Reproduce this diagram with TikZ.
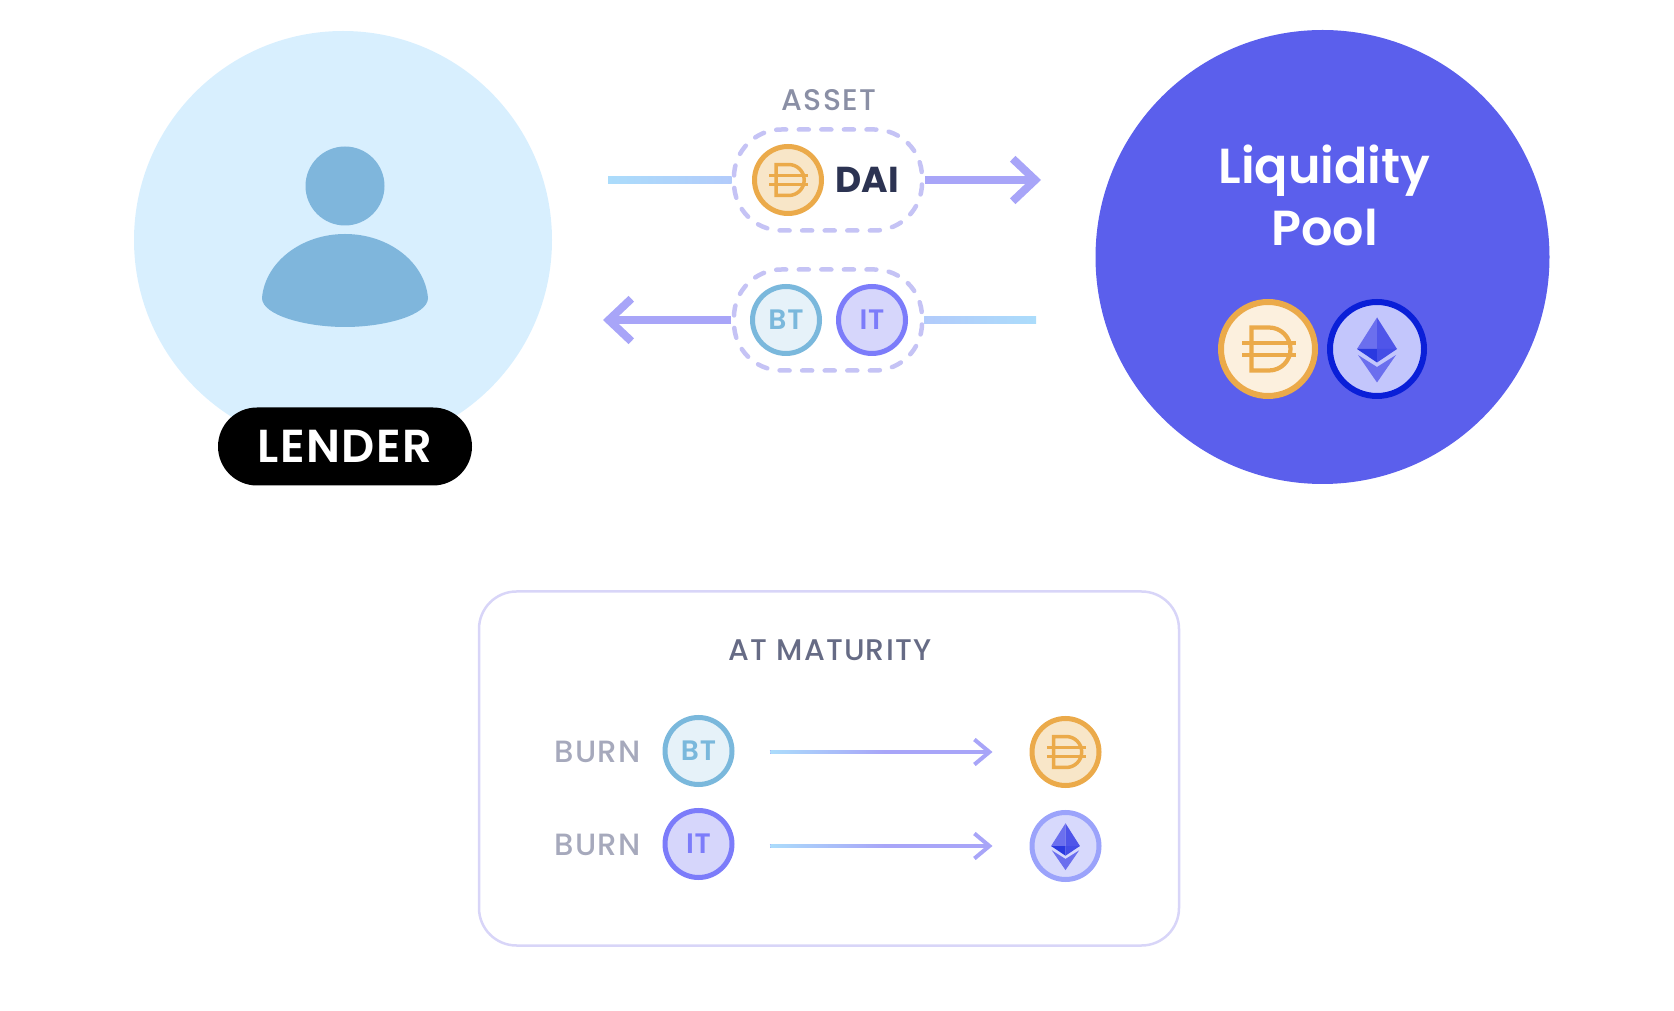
\documentclass[tikz,border=0pt]{standalone}
\usepackage{fontspec}
\setmainfont{Poppins}
\newfontfamily\labelfont[LetterSpace=4]{Poppins Medium}
\newfontfamily\headfont{Poppins SemiBold}
\newfontfamily\strongfont[LetterSpace=3]{Poppins SemiBold}
\usetikzlibrary{arrows.meta,calc}

\definecolor{lenderblue}{HTML}{D8EFFE}
\definecolor{personblue}{HTML}{7FB6DC}
\definecolor{poolblue}{HTML}{5B5FEC}
\definecolor{daiorange}{HTML}{EBAA4A}
\definecolor{daifill}{HTML}{F8E6C8}
\definecolor{daipale}{HTML}{FCF0DE}
\definecolor{btblue}{HTML}{7AB8DC}
\definecolor{btfill}{HTML}{E6F2F9}
\definecolor{itviolet}{HTML}{7C7CFA}
\definecolor{itfill}{HTML}{D6D6FB}
\definecolor{ethdark}{HTML}{0A1FD8}
\definecolor{ethfill}{HTML}{C3C6FC}
\definecolor{ethring}{HTML}{9BA3FB}
\definecolor{ethpale}{HTML}{D7D9FC}
\definecolor{dashviolet}{HTML}{C5C3F5}
\definecolor{boxviolet}{HTML}{D8D5F8}
\definecolor{lineblue}{HTML}{ABDCFB}
\definecolor{linemid}{HTML}{B2CBFB}
\definecolor{lineviolet}{HTML}{A8A5F8}
\definecolor{assetgrey}{HTML}{8A8FA5}
\definecolor{maturegrey}{HTML}{666B85}
\definecolor{burngrey}{HTML}{A6A9BC}
\definecolor{dainavy}{HTML}{2C3352}

\tikzset{
   coin/.style={circle,inner sep=0pt,minimum size=1.34cm,line width=.1cm,font=\fontsize{16pt}{16pt}\strongfont},
   bigcoin/.style={circle,inner sep=0pt,minimum size=1.88cm,line width=.12cm},
   daicoin/.style={coin,draw=daiorange,fill=daifill},
   btcoin/.style={coin,draw=btblue,fill=btfill,text=btblue},
   itcoin/.style={coin,draw=itviolet,fill=itfill,text=itviolet},
   ethcoin/.style={coin,draw=ethring,fill=ethpale},
   tokenpill/.style={draw=dashviolet,line width=.09cm,line cap=round,dash pattern=on .2cm off .2514cm,dash phase=.04cm,rounded corners=.95cm,minimum width=3.76cm,minimum height=2.02cm,fill=white},
   burnlabel/.style={text=burngrey,font=\fontsize{17.5pt}{17.5pt}\labelfont},
   bigarrow/.style={draw=lineviolet,line width=.16cm,shorten <=.02cm,-{Straight Barb[length=.45cm,width=.85cm]}},
   bigline/.style={draw=lineblue,line width=.16cm,shorten >=.02cm},
   thinarrow/.style={draw=lineviolet,line width=.08cm,-{Straight Barb[length=.3cm,width=.5cm]},shorten <=.7cm,shorten >=.74cm},
   daisign/.pic={
      \draw (-.33,.43) -- (.02,.43) arc (90:-90:.43) -- (-.33,-.43) -- cycle;
      \draw (-.52,.12) -- (.56,.12);
      \draw (-.52,-.12) -- (.56,-.12);
   },
   ethsign/.pic={
      \fill[ethlight] (0,.63) -- (-.4,0) -- (0,0) -- cycle;
      \fill[ethmid] (0,.63) -- (.4,0) -- (0,0) -- cycle;
      \fill[ethlow] (-.4,0) -- (0,-.27) -- (0,0) -- cycle;
      \fill[ethmid!70!ethlow] (.4,0) -- (0,-.27) -- (0,0) -- cycle;
      \fill[ethlight] (-.38,-.12) -- (0,-.36) -- (.38,-.12) -- (0,-.67) -- cycle;
   }
}
\colorlet{ethlight}{poolblue!90!white}
\colorlet{ethmid}{poolblue!85!ethdark}
\colorlet{ethlow}{ethdark!60!poolblue}

\begin{document}
\begin{tikzpicture}
   \useasboundingbox (0,0) rectangle (33.48,20.2);

   % lender
   \node[circle,fill=lenderblue,minimum size=8.36cm,inner sep=0pt] at (6.86,15.4) (lender) {};
   \node[circle,fill=personblue,minimum size=1.58cm,inner sep=0pt] at (6.9,16.48) (head) {};
   \fill[personblue] (5.24,14.24) .. controls (5.3,14.95) and (6.02,15.52) .. (6.9,15.52) .. controls (7.78,15.52) and (8.5,14.95) .. (8.56,14.24) .. controls (8.56,13.9) and (7.7,13.66) .. (6.9,13.66) .. controls (6.1,13.66) and (5.24,13.9) .. (5.24,14.24) -- cycle;
   \node[fill=black,text=white,rounded corners=.78cm,minimum width=5.08cm,minimum height=1.56cm,font=\fontsize{26.3pt}{26.3pt}\strongfont] at (6.9,11.27) (lenderlabel) {LENDER};

   % pool
   \node[circle,fill=poolblue,minimum size=9.08cm,inner sep=0pt] at (26.45,15.06) (pool) {};
   \node[text=white,align=center,font=\fontsize{28pt}{35.3pt}\headfont] at (26.49,16.29) (pooltext) {Liquidity\\Pool};
   \node[bigcoin,draw=daiorange,fill=daipale] at (25.36,13.22) (pooldai) {};
   \node[bigcoin,draw=ethdark,fill=ethfill] at (27.54,13.22) (pooleth) {};
   \pic[at={(pooldai)},draw=daiorange,line width=.085cm] {daisign};
   \pic[at={(pooleth)}] {ethsign};

   % flows
   \node[text=assetgrey,font=\fontsize{17pt}{17pt}\labelfont] at (16.58,18.2) (asset) {ASSET};
   \node[tokenpill] at (16.56,16.6) (assetpill) {};
   \node[tokenpill] at (16.56,13.8) (tokenpill2) {};
   \node[daicoin] at (15.76,16.6) (daiin) {};
   \pic[at={(daiin)},scale=.72,draw=daiorange,line width=.07cm] {daisign};
   \node[text=dainavy,font=\fontsize{20.5pt}{20.5pt}\selectfont\bfseries] at (17.34,16.6) (dailabel) {DAI};
   \node[btcoin] at (15.72,13.8) (btout) {BT};
   \node[itcoin] at (17.44,13.8) (itout) {IT};

   \coordinate (lendstart) at (12.16,16.6);
   \coordinate (poolend) at (20.82,16.6);
   \coordinate (lendend) at (12.06,13.8);
   \coordinate (poolstart) at (20.72,13.8);
   \draw[bigline] (lendstart) -- (assetpill);
   \draw[bigarrow] (assetpill) -- (poolend);
   \draw[bigarrow] (tokenpill2) -- (lendend);
   \draw[bigline] (tokenpill2) -- (poolstart);
   \shade[left color=lineblue,right color=linemid] (12.16,16.53) rectangle (14.63,16.67);
   \shade[left color=linemid,right color=lineblue] (18.49,13.73) rectangle (20.72,13.87);

   % at maturity
   \node[draw=boxviolet,line width=.05cm,rounded corners=.75cm,minimum width=14cm,minimum height=7.08cm] at (16.58,4.83) (maturity) {};
   \node[text=maturegrey,font=\fontsize{17pt}{17pt}\labelfont] at (16.6,7.2) (maturitylabel) {AT MATURITY};
   \node[burnlabel] at (11.95,5.16) (burnbt) {BURN};
   \node[burnlabel] at (11.95,3.3) (burnit) {BURN};
   \node[btcoin] at (13.97,5.18) (btburn) {BT};
   \node[itcoin] at (13.97,3.32) (itburn) {IT};
   \node[daicoin] at (21.31,5.16) (daiback) {};
   \node[ethcoin] at (21.31,3.28) (ethback) {};
   \pic[at={(daiback)},scale=.72,draw=daiorange,line width=.07cm] {daisign};
   \pic[at={(ethback)},scale=.72] {ethsign};

   \draw[thinarrow] (btburn.east |- daiback) -- (daiback);
   \draw[thinarrow] (itburn.east |- ethback) -- (ethback);
   \shade[left color=lineblue,right color=lineviolet] (15.41,5.135) rectangle (17.7,5.185);
   \shade[left color=lineblue,right color=lineviolet] (15.41,3.255) rectangle (17.7,3.305);
\end{tikzpicture}
\end{document}
